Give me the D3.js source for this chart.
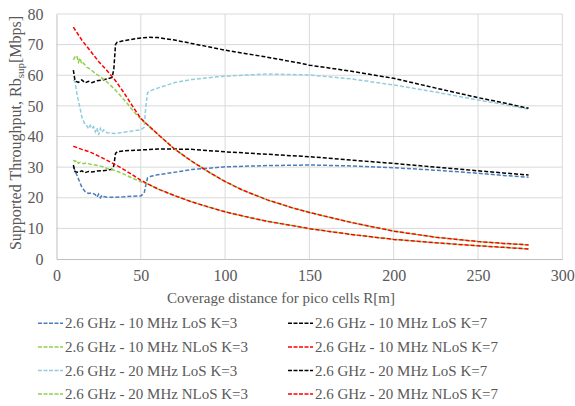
<!DOCTYPE html>
<html>
<head>
<meta charset="utf-8">
<script src="https://cdn.jsdelivr.net/npm/d3@7"></script>
<style>
  body { margin: 0; background: #fff; }
  svg text { font-family: "Liberation Serif", "Times New Roman", serif; fill: #595959; }
</style>
</head>
<body>
<div id="chart"></div>
<script>
// values
var xTicks = [0, 50, 100, 150, 200, 250, 300];
var yTicks = [0, 10, 20, 30, 40, 50, 60, 70, 80];

var los10k3X = [10, 12, 15, 17, 19, 21, 23, 24, 25, 26, 27, 28, 30, 35, 40, 45, 50, 52, 53, 54, 56, 60, 70, 80, 100, 125, 150, 175, 200, 225, 250, 265, 280];
var los10k3Y = [30.1, 27.5, 23.5, 22, 21.4, 21.6, 21, 20.2, 21.2, 20, 20.8, 20.4, 20.2, 20.2, 20.3, 20.5, 20.6, 21.5, 24.2, 26.5, 27, 27.5, 28.3, 29.2, 30.1, 30.5, 30.7, 30.4, 29.8, 29, 28, 27.3, 26.7];

var los10k7X = [10, 11, 13, 15, 17, 19, 21, 24, 27, 30, 33, 34, 35, 36, 40, 50, 60, 70, 80, 100, 125, 150, 175, 200, 225, 250, 265, 280];
var los10k7Y = [30.7, 28.5, 28.3, 28.8, 28.2, 28.6, 28.4, 28.7, 28.8, 29, 29.3, 30.5, 34.5, 35, 35.3, 35.6, 35.9, 35.9, 35.8, 35, 34.2, 33.4, 32.3, 31.2, 30, 28.8, 28.1, 27.4];

var nlos10k7X = [10, 15, 20, 25, 30, 35, 40, 45, 50, 55, 60, 70, 80, 90, 100, 110, 125, 140, 150, 175, 200, 225, 250, 265, 280];
var nlos10k7Y = [36.8, 35.8, 34.9, 33.6, 32.2, 30.8, 29.2, 27.5, 25.7, 24.3, 22.9, 20.7, 18.7, 17.0, 15.4, 14.1, 12.3, 10.9, 9.9, 8.0, 6.4, 5.3, 4.3, 3.8, 3.3];

var nlos10k3X = [10, 11, 12, 13, 14, 16, 18, 20, 22, 25, 28, 31, 34, 37, 40, 45, 50, 55, 60, 70, 80, 90, 100, 110, 125, 140, 150, 175, 200, 225, 250, 265, 280];
var nlos10k3Y = [32.3, 31.8, 32.2, 31.3, 31.6, 31.1, 31.4, 30.9, 30.8, 30.5, 30, 29.4, 29, 28.4, 27.7, 26.4, 25.2, 24.3, 22.9, 20.7, 18.7, 17.0, 15.4, 14.1, 12.3, 10.9, 9.9, 8.0, 6.4, 5.3, 4.3, 3.8, 3.3];

var los20k3X = [10, 11, 12, 15, 17, 18, 19, 20, 21, 22, 23, 24, 25, 26, 27, 28, 30, 35, 40, 45, 50, 52, 53, 54, 56, 60, 70, 80, 95, 110, 125, 150, 175, 200, 225, 250, 265, 280];
var los20k3Y = [58.5, 57.9, 54.3, 46.5, 43.8, 43.5, 42.5, 43.6, 42.6, 43.2, 41.5, 42.8, 40.5, 42.6, 41.4, 42.2, 41.2, 41, 41.4, 41.8, 42.2, 43, 50, 54.3, 55, 55.8, 57.6, 58.6, 59.5, 60, 60.4, 60.1, 58.8, 56.8, 54.5, 51.9, 50.5, 48.9];

var los20k7X = [10, 11, 13, 15, 17, 19, 21, 24, 27, 30, 33, 34, 35, 36, 40, 50, 55, 60, 70, 80, 100, 125, 145, 150, 175, 200, 225, 250, 265, 280];
var los20k7Y = [61.7, 58.1, 57.7, 58.5, 57.5, 58, 57.6, 58.2, 58.4, 58.8, 59.3, 62, 70, 70.8, 71.3, 72.2, 72.4, 72.3, 71.5, 70.4, 68.2, 65.9, 63.9, 63.3, 61.3, 59, 55.8, 52.7, 51, 49.2];

var nlos20k7X = [10, 15, 20, 25, 30, 35, 40, 45, 50, 55, 60, 70, 80, 90, 100, 110, 125, 140, 150, 175, 200, 225, 250, 265, 280];
var nlos20k7Y = [75.7, 71.5, 68, 64.5, 61.5, 58.2, 54.3, 50, 45.9, 43.3, 40.8, 35.9, 32, 28.5, 25.3, 22.6, 19.3, 16.7, 15.2, 11.9, 9.1, 7.1, 5.7, 5.1, 4.6];

var nlos20k3X = [10, 11, 12, 13, 14, 15, 16, 18, 20, 23, 26, 30, 34, 38, 42, 46, 50, 55, 60, 70, 80, 90, 100, 110, 125, 140, 150, 175, 200, 225, 250, 265, 280];
var nlos20k3Y = [65, 66, 66.4, 64.3, 65.6, 63.6, 64, 62.6, 62, 60.6, 59.5, 57.8, 55.7, 53.3, 50.8, 48, 45.7, 43.3, 40.8, 35.9, 32, 28.5, 25.3, 22.6, 19.3, 16.7, 15.2, 11.9, 9.1, 7.1, 5.7, 5.1, 4.6];

var seriesNames = [
  "2.6 GHz - 10 MHz LoS K=3", "2.6 GHz - 10 MHz LoS K=7",
  "2.6 GHz - 10 MHz NLoS K=3", "2.6 GHz - 10 MHz NLoS K=7",
  "2.6 GHz - 20 MHz LoS K=3", "2.6 GHz - 20 MHz LoS K=7",
  "2.6 GHz - 20 MHz NLoS K=3", "2.6 GHz - 20 MHz NLoS K=7"
];
var seriesColours = ["#4a7ebb", "#000000", "#92d050", "#ff0000", "#93cddd", "#000000", "#92d050", "#ff0000"];
var seriesX = [los10k3X, los10k7X, nlos10k3X, nlos10k7X, los20k3X, los20k7X, nlos20k3X, nlos20k7X];
var seriesY = [los10k3Y, los10k7Y, nlos10k3Y, nlos10k7Y, los20k3Y, los20k7Y, nlos20k3Y, nlos20k7Y];

var w = 575, h = 406;
var plotLeft = 56.5, plotRight = 562.3, plotTop = 14, plotBottom = 259;

var svg = d3.select("#chart").append("svg")
  .attr("width", w)
  .attr("height", h);

var xScale = d3.scaleLinear().domain([0, 300]).range([plotLeft, plotRight]);
var yScale = d3.scaleLinear().domain([0, 80]).range([plotBottom, plotTop]);

// gridlines
svg.append("g")
  .selectAll("line")
  .data(yTicks.slice(1))
  .enter().append("line")
  .attr("x1", plotLeft).attr("x2", plotRight)
  .attr("y1", function(d) { return yScale(d); })
  .attr("y2", function(d) { return yScale(d); })
  .attr("stroke", "#d9d9d9").attr("stroke-width", 1);

svg.append("g")
  .selectAll("line")
  .data(xTicks.slice(1))
  .enter().append("line")
  .attr("y1", plotTop).attr("y2", plotBottom)
  .attr("x1", function(d) { return xScale(d); })
  .attr("x2", function(d) { return xScale(d); })
  .attr("stroke", "#d9d9d9").attr("stroke-width", 1);

// axes
var xAxis = d3.axisBottom(xScale).tickValues(xTicks).tickSize(0).tickPadding(11);
var yAxis = d3.axisLeft(yScale).tickValues(yTicks).tickSize(0).tickPadding(13);

var gx = svg.append("g")
  .attr("transform", "translate(0," + plotBottom + ")")
  .call(xAxis);
var gy = svg.append("g")
  .attr("transform", "translate(" + plotLeft + ",0)")
  .call(yAxis);

[gx, gy].forEach(function(g) {
  g.select(".domain").attr("stroke", "#bfbfbf").attr("stroke-width", 1);
  g.selectAll("text")
    .attr("font-size", "16px")
    .attr("fill", "#595959");
});

// series
var line = d3.line()
  .x(function(d) { return xScale(d[0]); })
  .y(function(d) { return yScale(d[1]); });

seriesNames.forEach(function(name, i) {
  var pts = seriesX[i].map(function(x, j) { return [x, seriesY[i][j]]; });
  svg.append("path")
    .datum(pts)
    .attr("d", line)
    .attr("fill", "none")
    .attr("stroke", seriesColours[i])
    .attr("stroke-width", 1.5)
    .attr("stroke-dasharray", "4,2");
});

// axis titles
svg.append("text")
  .attr("x", 281)
  .attr("y", 303)
  .attr("text-anchor", "middle")
  .attr("font-size", "15px")
  .text("Coverage distance for pico cells R[m]");

var yTitle = svg.append("text")
  .attr("transform", "translate(21,133) rotate(-90)")
  .attr("text-anchor", "middle")
  .attr("font-size", "16px");
yTitle.append("tspan").text("Supported Throughput, Rb");
yTitle.append("tspan").attr("font-size", "11px").attr("dy", 3).text("sup");
yTitle.append("tspan").attr("dy", -3).text("[Mbps]");

// legend
var legend = svg.append("g");
seriesNames.forEach(function(name, i) {
  var col = i % 2, row = Math.floor(i / 2);
  var lx = col === 0 ? 38 : 288;
  var ly = 323.3 + row * 23.6;
  legend.append("line")
    .attr("x1", lx).attr("x2", lx + 25)
    .attr("y1", ly).attr("y2", ly)
    .attr("stroke", seriesColours[i])
    .attr("stroke-width", 1.5)
    .attr("stroke-dasharray", "4,1.5");
  legend.append("text")
    .attr("x", lx + 27)
    .attr("y", ly + 5)
    .attr("font-size", "15px")
    .text(name);
});
</script>
</body>
</html>
